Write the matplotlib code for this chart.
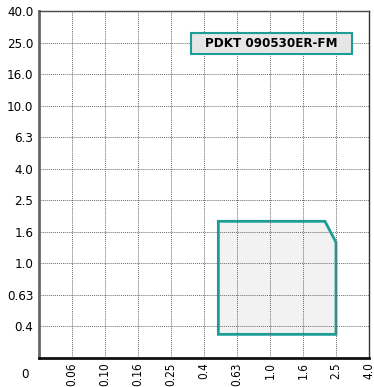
import numpy as np
import matplotlib.pyplot as plt
from matplotlib.patches import Polygon, Rectangle

# tick values of the two axes (not evenly spaced, shown on equal steps)
x_ticks = [0, 0.06, 0.10, 0.16, 0.25, 0.4, 0.63, 1.0, 1.6, 2.5, 4.0]
x_labels = ["0", "0.06", "0.10", "0.16", "0.25", "0.4", "0.63", "1.0", "1.6", "2.5", "4.0"]
y_ticks = [0, 0.4, 0.63, 1.0, 1.6, 2.5, 4.0, 6.3, 10.0, 16.0, 25.0, 40.0]
y_labels = ["0", "0.4", "0.63", "1.0", "1.6", "2.5", "4.0", "6.3", "10.0", "16.0", "25.0", "40.0"]

# application area (feed f, depth ap)
area_x = [0.5, 0.5, 2.2, 2.5, 2.5]
area_y = [0.3, 1.9, 1.9, 1.4, 0.3]

title = "PDKT 090530ER-FM"

teal = "#1a9e96"
plt.rcParams["font.family"] = ["DejaVu Sans"]
plt.rcParams["font.stretch"] = "condensed"

def step_scale(ticks):
    idx = np.arange(len(ticks), dtype=float)
    vals = np.array(ticks, dtype=float)
    fwd = lambda v: np.interp(v, vals, idx)
    inv = lambda i: np.interp(i, idx, vals)
    return fwd, inv

fig = plt.figure(figsize=(3.74, 3.87), dpi=100)
ax = fig.add_axes([0.1043, 0.0749, 0.8823, 0.8967])
ax.set_xscale("function", functions=step_scale(x_ticks))
ax.set_yscale("function", functions=step_scale(y_ticks))
ax.set_xlim(x_ticks[0], x_ticks[-1])
ax.set_ylim(y_ticks[0], y_ticks[-1])

ax.add_patch(Polygon(list(zip(area_x, area_y)), closed=True, facecolor="#f2f2f2",
                     edgecolor=teal, linewidth=2, zorder=1))

ax.set_xticks(x_ticks[1:])
ax.set_xticklabels(x_labels[1:], rotation=90, fontsize=8.5)
ax.set_yticks(y_ticks[1:])
ax.set_yticklabels(y_labels[1:], fontsize=9.5)
ax.tick_params(axis="y", length=0, pad=4)
ax.tick_params(axis="x", length=0, pad=3)
ax.grid(True, color="#6a6a6a", linestyle=(0, (1, 1)), linewidth=0.7, zorder=2)
ax.set_axisbelow(False)

ax.text(-0.03, -0.03, "0", transform=ax.transAxes, ha="right", va="top", fontsize=9.5)

for side in ["top", "right"]:
    ax.spines[side].set_color("#333333")
    ax.spines[side].set_linewidth(1)
ax.spines["left"].set_color("#666666")
ax.spines["left"].set_linewidth(2)
ax.spines["bottom"].set_color("#111111")
ax.spines["bottom"].set_linewidth(2)

ax.add_patch(Rectangle((0.461, 0.876), 0.488, 0.061, transform=ax.transAxes,
                       facecolor="#e6e6e6", edgecolor=teal, linewidth=1.5, zorder=5))
ax.text(0.705, 0.906, title, transform=ax.transAxes, ha="center", va="center",
        fontsize=9.5, fontweight="bold", zorder=6)

fig.savefig("out.png", dpi=100)
